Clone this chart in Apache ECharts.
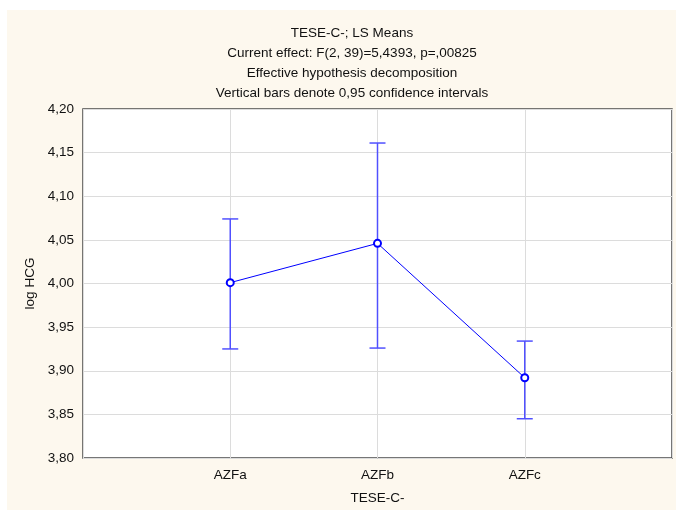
<!DOCTYPE html>
<html>
<head>
<meta charset="utf-8">
<script src="https://cdn.jsdelivr.net/npm/echarts@6/dist/echarts.min.js"></script>
<style>
  html, body { margin: 0; padding: 0; background: #fff; }
  #wrap { position: relative; width: 676px; height: 510px; }
  #bg { position: absolute; left: 7px; top: 10px; right: 0; bottom: 0; background: #fdf8ee; }
  #chart { position: absolute; left: 0; top: 0; width: 676px; height: 510px; }
</style>
</head>
<body>
<div id="wrap"><div id="bg"></div><div id="chart"></div></div>
<script>
// 数据
const categories = ['AZFa', 'AZFb', 'AZFc'];
const means = [4.001, 4.046, 3.892];
const lower = [3.925, 3.926, 3.845];
const upper = [4.074, 4.161, 3.934];
const titleLines = [
    'TESE-C-; LS Means',
    'Current effect: F(2, 39)=5,4393, p=,00825',
    'Effective hypothesis decomposition',
    'Vertical bars denote 0,95 confidence intervals'
];

const FONT = '"Liberation Sans", Arial, sans-serif';
const FS = 13.5;
const comma = v => v.toFixed(2).replace('.', ',');

const chart = echarts.init(document.getElementById('chart'));

chart.setOption({
    animation: false,
    textStyle: { fontFamily: FONT },
    title: {
        text: titleLines.join('\n'),
        left: 347,
        textAlign: 'center',
        top: 18,
        textStyle: { fontFamily: FONT, fontSize: FS, fontWeight: 'normal', color: '#111', lineHeight: 20 }
    },
    grid: {
        left: 83, right: 4, top: 109, bottom: 46,
        show: true, backgroundColor: '#fff', borderColor: '#4a4a4a', borderWidth: 1.5
    },
    xAxis: {
        type: 'value', min: 0, max: 4, interval: 1,
        name: 'TESE-C-', nameLocation: 'middle', nameGap: 33,
        nameTextStyle: { fontFamily: FONT, fontSize: FS, color: '#111' },
        axisLine: { show: false },
        axisTick: { show: false },
        axisLabel: {
            margin: 10, fontSize: FS, color: '#111', fontFamily: FONT,
            formatter: v => (v >= 1 && v <= categories.length) ? categories[v - 1] : ''
        },
        splitLine: { show: true, lineStyle: { color: '#dcdcdc', width: 1 } }
    },
    yAxis: {
        type: 'value', min: 3.8, max: 4.2, interval: 0.05,
        name: 'log HCG', nameLocation: 'middle', nameGap: 46, nameRotate: 90,
        nameTextStyle: { fontFamily: FONT, fontSize: FS, color: '#111' },
        axisLine: { show: false },
        axisTick: { show: false },
        axisLabel: { margin: 9, fontSize: FS, color: '#111', fontFamily: FONT, formatter: comma },
        splitLine: { show: true, lineStyle: { color: '#dcdcdc', width: 1 } }
    },
    series: [
        {
            type: 'custom',
            name: 'ci',
            data: categories.map((c, i) => [i + 1, lower[i], upper[i]]),
            encode: { x: 0, y: [1, 2] },
            renderItem: (params, api) => {
                const lo = api.coord([api.value(0), api.value(1)]);
                const hi = api.coord([api.value(0), api.value(2)]);
                const w = 8;
                const style = { stroke: '#5050ff', lineWidth: 1.5 };
                return {
                    type: 'group',
                    children: [
                        { type: 'line', shape: { x1: hi[0], y1: hi[1], x2: lo[0], y2: lo[1] }, style },
                        { type: 'line', shape: { x1: hi[0] - w, y1: hi[1], x2: hi[0] + w, y2: hi[1] }, style },
                        { type: 'line', shape: { x1: lo[0] - w, y1: lo[1], x2: lo[0] + w, y2: lo[1] }, style }
                    ]
                };
            },
            z: 2
        },
        {
            type: 'line',
            name: 'mean',
            data: categories.map((c, i) => [i + 1, means[i]]),
            symbol: 'circle',
            symbolSize: 7,
            lineStyle: { color: '#0000ff', width: 1 },
            itemStyle: { color: '#fff', borderColor: '#0000ff', borderWidth: 2 },
            z: 3
        }
    ]
});
</script>
</body>
</html>
